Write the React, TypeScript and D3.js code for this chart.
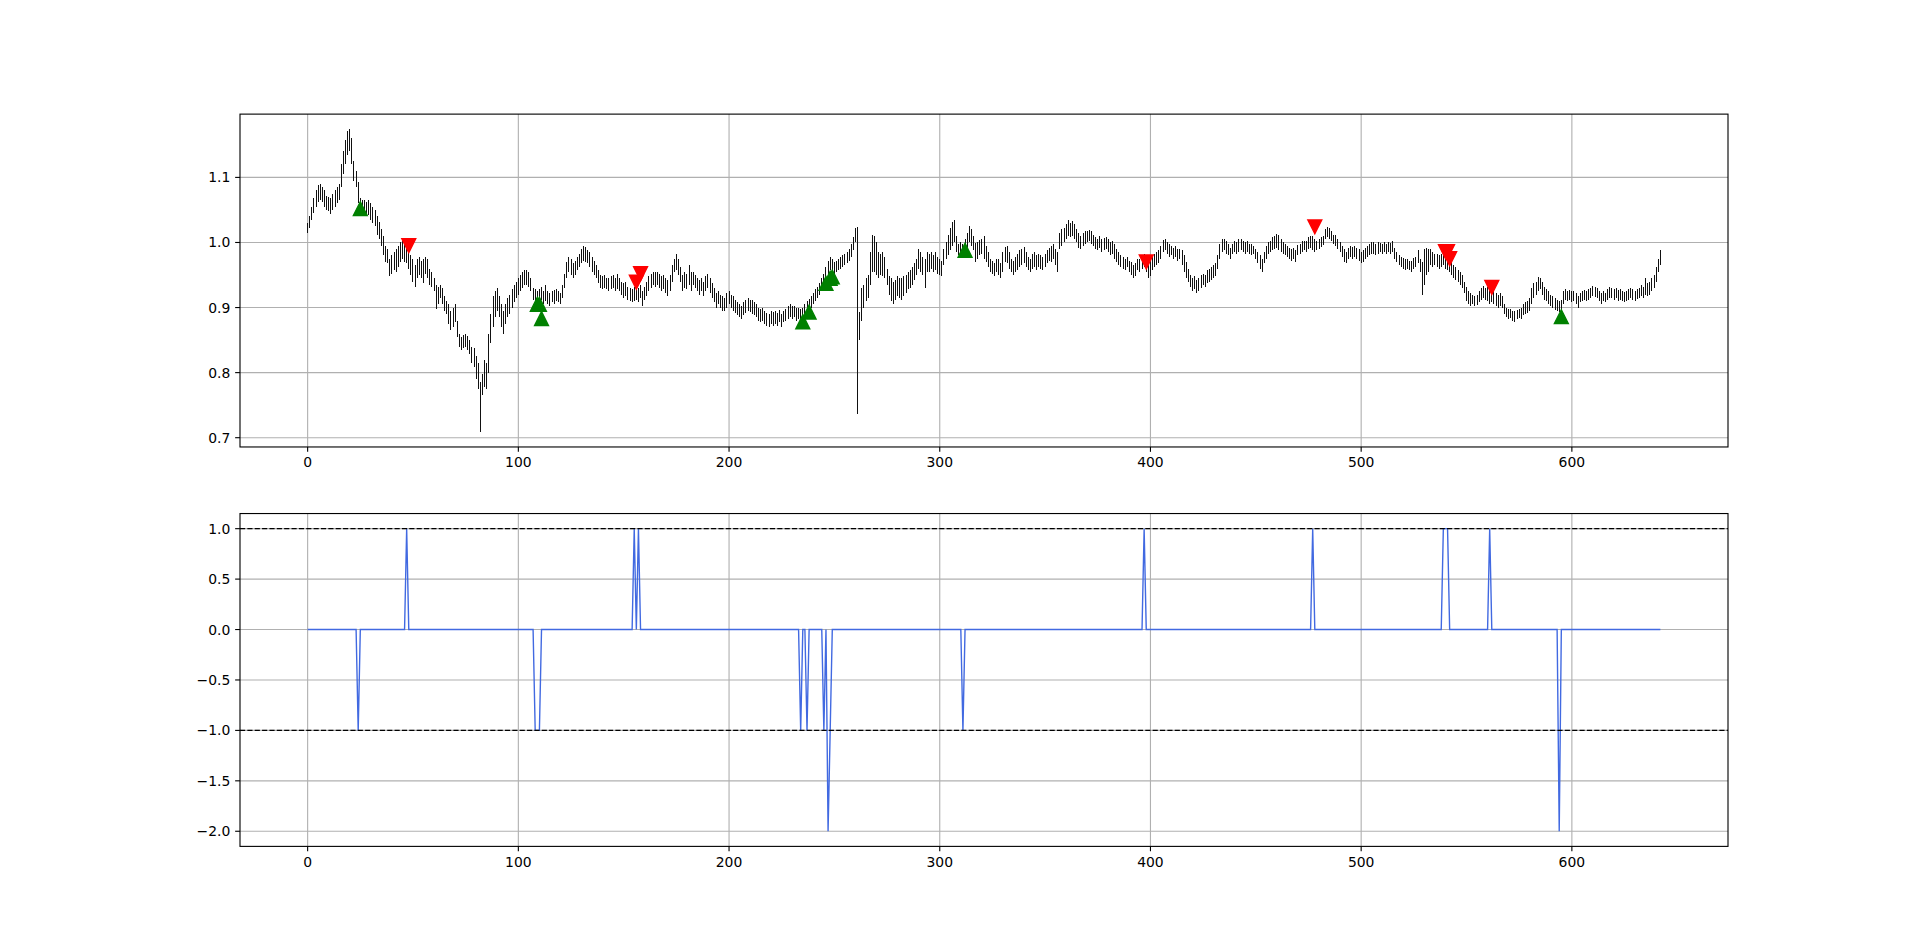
import React from 'react';
import * as d3 from 'd3';

const lows = [
1.014,1.022,1.035,1.045,1.055,1.062,1.066,1.062,1.055,1.050,
1.048,1.044,1.050,1.055,1.060,1.065,1.085,1.105,1.120,1.135,
1.140,1.120,1.095,1.085,1.060,1.045,1.042,1.045,1.040,1.042,
1.035,1.030,1.025,1.012,1.005,0.995,0.980,0.970,0.968,0.948,
0.952,0.958,0.955,0.962,0.970,0.975,0.970,0.968,0.960,0.950,
0.940,0.932,0.945,0.950,0.945,0.938,0.952,0.945,0.935,0.932,
0.925,0.898,0.905,0.915,0.905,0.895,0.890,0.875,0.865,0.870,
0.878,0.855,0.840,0.835,0.838,0.840,0.835,0.828,0.815,0.808,
0.790,0.775,0.709,0.765,0.778,0.775,0.800,0.845,0.870,0.885,
0.895,0.885,0.870,0.860,0.875,0.885,0.890,0.900,0.908,0.915,
0.920,0.925,0.930,0.935,0.935,0.932,0.925,0.912,0.910,0.905,
0.908,0.912,0.905,0.910,0.905,0.903,0.908,0.905,0.910,0.908,
0.905,0.915,0.930,0.945,0.955,0.950,0.945,0.950,0.958,0.962,
0.968,0.972,0.970,0.968,0.962,0.955,0.950,0.945,0.938,0.930,
0.928,0.930,0.928,0.925,0.928,0.930,0.925,0.928,0.925,0.920,
0.915,0.918,0.912,0.910,0.908,0.910,0.912,0.908,0.915,0.902,
0.912,0.918,0.925,0.930,0.935,0.932,0.935,0.930,0.925,0.928,
0.922,0.918,0.925,0.940,0.955,0.958,0.950,0.940,0.925,0.930,
0.928,0.935,0.925,0.935,0.930,0.925,0.920,0.925,0.918,0.925,
0.930,0.922,0.915,0.908,0.900,0.905,0.900,0.895,0.895,0.900,
0.905,0.900,0.895,0.892,0.888,0.885,0.883,0.888,0.892,0.895,
0.893,0.890,0.888,0.885,0.880,0.878,0.880,0.875,0.872,0.870,
0.875,0.872,0.875,0.872,0.878,0.870,0.878,0.880,0.882,0.885,
0.883,0.885,0.880,0.882,0.878,0.880,0.885,0.890,0.895,0.900,
0.905,0.910,0.915,0.920,0.925,0.935,0.940,0.950,0.958,0.955,
0.950,0.955,0.958,0.960,0.962,0.965,0.968,0.972,0.978,0.988,
1.000,0.737,0.850,0.880,0.900,0.910,0.915,0.935,0.955,0.955,
0.950,0.945,0.950,0.948,0.945,0.935,0.920,0.910,0.905,0.912,
0.918,0.915,0.912,0.918,0.922,0.928,0.930,0.935,0.942,0.950,
0.960,0.955,0.950,0.930,0.955,0.955,0.960,0.955,0.958,0.952,
0.950,0.948,0.965,0.975,0.980,0.988,0.995,1.000,0.985,0.980,
0.982,0.978,0.985,0.992,1.000,0.995,0.988,0.970,0.975,0.980,
0.982,0.975,0.970,0.962,0.955,0.952,0.948,0.955,0.950,0.945,
0.955,0.970,0.968,0.960,0.955,0.950,0.955,0.958,0.962,0.965,
0.968,0.962,0.958,0.955,0.960,0.962,0.958,0.962,0.960,0.958,
0.962,0.968,0.972,0.970,0.975,0.965,0.955,0.990,0.995,1.000,
1.005,1.010,1.008,1.010,1.005,1.000,0.992,0.990,0.995,0.998,
1.000,1.002,0.998,0.995,0.990,0.988,0.992,0.985,0.988,0.990,
0.985,0.980,0.982,0.975,0.970,0.965,0.962,0.960,0.958,0.962,
0.955,0.950,0.945,0.948,0.958,0.955,0.960,0.962,0.955,0.945,
0.948,0.958,0.962,0.965,0.968,0.975,0.985,0.988,0.982,0.978,
0.980,0.975,0.978,0.972,0.975,0.965,0.955,0.945,0.940,0.932,
0.925,0.928,0.922,0.925,0.930,0.935,0.932,0.938,0.940,0.942,
0.945,0.948,0.960,0.975,0.985,0.988,0.982,0.980,0.975,0.982,
0.985,0.983,0.985,0.988,0.985,0.982,0.985,0.983,0.980,0.982,
0.975,0.968,0.960,0.955,0.968,0.975,0.982,0.985,0.988,0.990,
0.992,0.988,0.985,0.982,0.980,0.978,0.975,0.972,0.975,0.970,
0.980,0.982,0.985,0.988,0.985,0.990,0.992,0.988,0.985,0.988,
0.990,0.993,0.996,1.005,1.008,1.005,1.002,0.998,0.995,0.990,
0.985,0.978,0.970,0.968,0.975,0.978,0.975,0.978,0.975,0.972,
0.968,0.970,0.975,0.978,0.980,0.982,0.983,0.980,0.982,0.985,
0.982,0.985,0.983,0.985,0.982,0.985,0.975,0.970,0.965,0.962,
0.960,0.958,0.960,0.958,0.955,0.960,0.962,0.968,0.955,0.919,
0.935,0.950,0.955,0.965,0.962,0.965,0.962,0.960,0.962,0.965,
0.960,0.958,0.955,0.950,0.945,0.942,0.940,0.935,0.930,0.922,
0.910,0.905,0.903,0.905,0.902,0.904,0.908,0.912,0.915,0.912,
0.910,0.905,0.908,0.905,0.902,0.900,0.903,0.900,0.890,0.885,
0.882,0.884,0.880,0.878,0.882,0.884,0.882,0.888,0.890,0.892,
0.895,0.905,0.915,0.920,0.925,0.928,0.920,0.912,0.910,0.905,
0.902,0.900,0.897,0.895,0.893,0.895,0.905,0.912,0.910,0.912,
0.908,0.910,0.905,0.900,0.908,0.910,0.912,0.910,0.912,0.915,
0.918,0.916,0.914,0.910,0.906,0.910,0.908,0.912,0.915,0.914,
0.912,0.914,0.910,0.912,0.910,0.908,0.910,0.912,0.914,0.912,
0.910,0.913,0.915,0.918,0.915,0.920,0.918,0.920,0.925,0.930,
0.940,0.955,0.965];

const highs = [
1.030,1.040,1.055,1.068,1.080,1.088,1.090,1.086,1.080,1.072,
1.070,1.068,1.075,1.080,1.085,1.090,1.120,1.140,1.158,1.172,
1.174,1.160,1.125,1.110,1.093,1.068,1.065,1.066,1.062,1.065,
1.060,1.055,1.050,1.040,1.032,1.020,1.010,0.995,0.990,0.975,
0.980,0.985,0.990,0.995,1.000,1.002,0.998,0.995,0.990,0.980,
0.975,0.965,0.975,0.978,0.972,0.975,0.978,0.975,0.960,0.955,
0.945,0.935,0.932,0.935,0.930,0.918,0.910,0.905,0.895,0.900,
0.905,0.880,0.860,0.855,0.858,0.860,0.856,0.850,0.840,0.838,
0.825,0.815,0.785,0.798,0.820,0.815,0.860,0.890,0.918,0.925,
0.930,0.918,0.905,0.895,0.905,0.915,0.920,0.928,0.935,0.940,
0.945,0.950,0.955,0.958,0.958,0.955,0.945,0.930,0.928,0.925,
0.928,0.932,0.925,0.935,0.925,0.922,0.925,0.927,0.928,0.925,
0.922,0.935,0.952,0.970,0.978,0.975,0.968,0.972,0.978,0.982,
0.990,0.995,0.993,0.988,0.985,0.978,0.972,0.965,0.958,0.950,
0.948,0.950,0.946,0.945,0.948,0.950,0.945,0.952,0.945,0.940,
0.938,0.940,0.932,0.930,0.928,0.932,0.935,0.930,0.935,0.925,
0.932,0.940,0.948,0.952,0.955,0.955,0.955,0.952,0.948,0.950,
0.945,0.942,0.950,0.965,0.975,0.983,0.975,0.962,0.950,0.955,
0.952,0.965,0.955,0.955,0.950,0.945,0.942,0.945,0.940,0.948,
0.952,0.945,0.938,0.930,0.922,0.925,0.920,0.918,0.915,0.922,
0.925,0.920,0.918,0.912,0.908,0.905,0.903,0.908,0.912,0.915,
0.912,0.912,0.908,0.905,0.900,0.898,0.900,0.895,0.892,0.890,
0.895,0.893,0.895,0.892,0.897,0.890,0.895,0.898,0.902,0.905,
0.903,0.903,0.900,0.900,0.898,0.900,0.905,0.910,0.913,0.918,
0.922,0.928,0.932,0.938,0.945,0.952,0.962,0.972,0.978,0.975,
0.970,0.972,0.975,0.978,0.980,0.982,0.985,0.990,0.998,1.008,
1.022,1.024,0.893,0.930,0.935,0.945,0.950,0.985,1.012,1.010,
1.000,0.985,0.982,0.985,0.978,0.960,0.948,0.945,0.940,0.942,
0.948,0.945,0.945,0.948,0.950,0.955,0.958,0.962,0.968,0.975,
0.990,0.985,0.978,0.975,0.985,0.982,0.985,0.980,0.985,0.978,
0.975,0.972,0.990,1.000,1.012,1.022,1.032,1.034,1.010,0.998,
1.000,0.998,1.005,1.015,1.025,1.020,1.010,0.999,1.000,1.004,
1.005,1.010,0.995,0.985,0.975,0.972,0.968,0.975,0.975,0.968,
0.985,0.993,0.995,0.985,0.975,0.972,0.978,0.982,0.988,0.990,
0.993,0.985,0.978,0.975,0.982,0.985,0.980,0.982,0.980,0.978,
0.983,0.988,0.992,0.995,0.998,0.990,0.985,1.015,1.020,1.022,
1.028,1.034,1.030,1.033,1.028,1.020,1.015,1.010,1.015,1.017,
1.018,1.019,1.017,1.012,1.008,1.005,1.010,1.005,1.007,1.009,
1.005,1.000,1.002,0.998,0.990,0.985,0.980,0.978,0.975,0.978,
0.972,0.970,0.965,0.968,0.975,0.975,0.980,0.982,0.978,0.970,
0.972,0.978,0.982,0.985,0.988,0.995,1.004,1.005,1.000,0.998,
0.995,0.992,0.995,0.990,0.990,0.988,0.980,0.970,0.960,0.950,
0.945,0.948,0.942,0.945,0.950,0.952,0.950,0.957,0.960,0.962,
0.965,0.968,0.980,0.998,1.006,1.005,1.002,0.998,0.992,0.998,
1.002,1.000,1.005,1.006,1.002,1.000,1.002,0.998,0.998,0.995,
0.990,0.985,0.980,0.975,0.985,0.995,1.000,1.003,1.008,1.010,
1.013,1.012,1.005,1.000,0.998,0.995,0.992,0.990,0.992,0.988,
0.996,0.998,1.002,1.003,1.002,1.008,1.010,1.010,1.005,1.002,
1.005,1.008,1.010,1.020,1.024,1.022,1.018,1.012,1.012,1.005,
1.000,0.995,0.990,0.985,0.992,0.995,0.993,0.995,0.992,0.990,
0.985,0.988,0.992,0.995,0.998,1.000,1.001,0.998,1.000,0.999,
0.998,1.000,0.998,1.000,0.999,1.002,0.992,0.985,0.980,0.978,
0.976,0.975,0.975,0.972,0.972,0.976,0.978,0.988,0.975,0.970,
0.990,0.992,0.990,0.990,0.985,0.983,0.982,0.980,0.983,0.985,
0.980,0.978,0.975,0.970,0.965,0.962,0.958,0.955,0.950,0.940,
0.932,0.925,0.922,0.920,0.918,0.920,0.925,0.930,0.933,0.930,
0.932,0.928,0.926,0.925,0.922,0.920,0.922,0.918,0.905,0.900,
0.898,0.898,0.895,0.895,0.897,0.898,0.900,0.905,0.908,0.910,
0.915,0.930,0.938,0.940,0.947,0.945,0.940,0.932,0.928,0.925,
0.920,0.918,0.915,0.912,0.910,0.912,0.925,0.928,0.925,0.927,
0.925,0.925,0.922,0.918,0.922,0.925,0.927,0.925,0.928,0.930,
0.933,0.932,0.930,0.925,0.922,0.925,0.922,0.928,0.932,0.930,
0.928,0.930,0.927,0.928,0.925,0.924,0.925,0.928,0.930,0.928,
0.926,0.928,0.930,0.935,0.932,0.945,0.938,0.940,0.945,0.950,
0.962,0.975,0.988];

// signal events (all other bars are 0)
const signalIdx = [24, 47, 108, 109, 110, 155, 157, 234, 237, 245, 247, 248, 311, 397, 477, 539, 540, 541, 561, 594];
const signalVal = [-1, 1, -1, -1, -1, 1, 1, -1, -1, -1, -2, -1, -1, 1, 1, 1, 1, 1, 1, -2];

const buyIdx = [25, 109, 110, 111, 235, 238, 246, 248, 249, 312, 595];
const buyVal = [1.052, 0.905, 0.905, 0.883, 0.878, 0.893, 0.937, 0.945, 0.947, 0.988, 0.886];
const sellIdx = [48, 156, 158, 398, 478, 540, 541, 542, 562];
const sellVal = [0.995, 0.939, 0.952, 0.970, 1.024, 0.986, 0.986, 0.975, 0.931];

const xTicks = [0, 100, 200, 300, 400, 500, 600];
const priceTicks = [0.7, 0.8, 0.9, 1.0, 1.1];
const signalTicks = [-2.0, -1.5, -1.0, -0.5, 0.0, 0.5, 1.0];
const thresholds = [1, -1];

const W = 1920, H = 951;
const L = 240, R = 1728;
const figTop = 951 * 0.12, figBot = 951 * 0.89;
const axH = (figBot - figTop) / 2.2;
const top1 = figTop, bot1 = figTop + axH;
const top2 = figBot - axH, bot2 = figBot;

const FONT = 'DejaVu Sans, sans-serif';
const FS = 13.9;
const fmtTick = (v: number) => v.toFixed(1).replace('-', '\u2212');

function pad(lo: number, hi: number): [number, number] {
  const r = hi - lo;
  return [lo - 0.05 * r, hi + 0.05 * r];
}

export default function App() {
  const n = lows.length;
  const signal = new Array(n).fill(0);
  signalIdx.forEach((i, k) => { signal[i] = signalVal[k]; });

  const x = d3.scaleLinear().domain(pad(0, n - 1)).range([L, R]);
  const yP = d3.scaleLinear().domain(pad(d3.min(lows)!, d3.max(highs)!)).range([bot1, top1]);
  const yS = d3.scaleLinear().domain(pad(d3.min(signal)!, d3.max(signal)!)).range([bot2, top2]);

  const line = d3.line<number>().x((_, i) => x(i)).y(d => yS(d));
  const ms = 13.9;
  const tri = (cx: number, cy: number, up: boolean) => {
    const h = ms / 2;
    return up
      ? `M${cx},${cy - h}L${cx - h},${cy + h}L${cx + h},${cy + h}Z`
      : `M${cx},${cy + h}L${cx - h},${cy - h}L${cx + h},${cy - h}Z`;
  };

  const axes = (t: number, b: number, yScale: d3.ScaleLinear<number, number>, yTicks: number[], key: string) => (
    <g key={key}>
      {xTicks.map(v => (
        <line key={'gx' + v} x1={x(v)} x2={x(v)} y1={t} y2={b} stroke="#b0b0b0" strokeWidth={1.11} />
      ))}
      {yTicks.map(v => (
        <line key={'gy' + v} x1={L} x2={R} y1={yScale(v)} y2={yScale(v)} stroke="#b0b0b0" strokeWidth={1.11} />
      ))}
    </g>
  );

  const frame = (t: number, b: number, yScale: d3.ScaleLinear<number, number>, yTicks: number[], key: string) => (
    <g key={key}>
      <rect x={L} y={t} width={R - L} height={b - t} fill="none" stroke="#000" strokeWidth={1.11} />
      {xTicks.map(v => (
        <g key={'tx' + v}>
          <line x1={x(v)} x2={x(v)} y1={b} y2={b + 4.86} stroke="#000" strokeWidth={1.11} />
          <text x={x(v)} y={b + 20.3} textAnchor="middle" fontFamily={FONT} fontSize={FS} fill="#000">{v}</text>
        </g>
      ))}
      {yTicks.map(v => (
        <g key={'ty' + v}>
          <line x1={L - 4.86} x2={L} y1={yScale(v)} y2={yScale(v)} stroke="#000" strokeWidth={1.11} />
          <text x={L - 9.72} y={yScale(v)} dy="0.36em" textAnchor="end" fontFamily={FONT} fontSize={FS} fill="#000">{fmtTick(v)}</text>
        </g>
      ))}
    </g>
  );

  return (
    <svg width={W} height={H} style={{ position: 'absolute', left: 0, top: 0, display: 'block', background: '#fff' }}>
      <rect x={0} y={0} width={W} height={H} fill="#fff" />
      {axes(top1, bot1, yP, priceTicks, 'a1')}
      <g shapeRendering="crispEdges">
        {lows.map((lo, i) => (
          <line key={i} x1={x(i)} x2={x(i)} y1={yP(lo)} y2={yP(highs[i])} stroke="#111" strokeWidth={1} />
        ))}
      </g>
      <g>
        {buyIdx.map((i, k) => (
          <path key={'b' + k} d={tri(x(i), yP(buyVal[k]), true)} fill="green" stroke="green" strokeWidth={1.39} />
        ))}
        {sellIdx.map((i, k) => (
          <path key={'s' + k} d={tri(x(i), yP(sellVal[k]), false)} fill="red" stroke="red" strokeWidth={1.39} />
        ))}
      </g>
      {frame(top1, bot1, yP, priceTicks, 'f1')}

      {axes(top2, bot2, yS, signalTicks, 'a2')}
      <path d={line(signal) || ''} fill="none" stroke="royalblue" strokeWidth={1.39} />
      {thresholds.map(v => (
        <line key={'th' + v} x1={L} x2={R} y1={yS(v)} y2={yS(v)} stroke="#000" strokeWidth={1.39} strokeDasharray="5.14,2.22" />
      ))}
      {frame(top2, bot2, yS, signalTicks, 'f2')}
    </svg>
  );
}
